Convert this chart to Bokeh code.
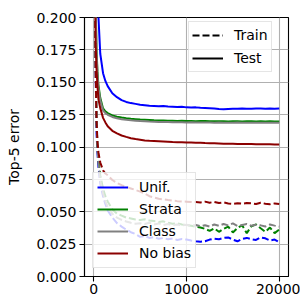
from bokeh.plotting import figure
from bokeh.models import Legend, LegendItem, Range1d, FixedTicker, NumeralTickFormatter
from bokeh.embed import file_html
from bokeh.resources import INLINE

steps = [0, 100, 200, 300, 400, 500, 700, 1000, 1250, 1500,
         2000, 2500, 3000, 3500, 4000, 4500, 5000, 5500, 6000, 6500,
         7000, 7500, 8000, 8500, 9000, 9500, 10000, 10500, 11000, 11500,
         12000, 12500, 13000, 13500, 14000, 14500, 15000, 15500, 16000, 16500,
         17000, 17500, 18000, 18500, 19000, 19500, 20000]

test_unif = [0.95, 0.55, 0.36, 0.27, 0.225, 0.201, 0.172, 0.157, 0.151, 0.147,
             0.1415, 0.1385, 0.1362, 0.1348, 0.1339, 0.1333, 0.1327, 0.1323, 0.1319, 0.1317,
             0.1315, 0.1316, 0.1312, 0.1311, 0.1309, 0.1310, 0.1306, 0.1305, 0.1306, 0.1303,
             0.1302, 0.1300, 0.1297, 0.1293, 0.1291, 0.1294, 0.1296, 0.1295, 0.1297, 0.1296,
             0.1295, 0.1297, 0.1298, 0.1296, 0.1297, 0.1296, 0.1298]
test_strata = [0.9, 0.3, 0.21, 0.175, 0.158, 0.148, 0.138, 0.1298, 0.1275, 0.1262,
               0.1244, 0.1234, 0.1227, 0.1222, 0.1218, 0.1215, 0.1212, 0.1210, 0.1208, 0.1206,
               0.1205, 0.1204, 0.1203, 0.1203, 0.1201, 0.1202, 0.1200, 0.1201, 0.1199, 0.1200,
               0.1201, 0.1199, 0.1198, 0.1199, 0.1198, 0.1197, 0.1198, 0.1199, 0.1197, 0.1198,
               0.1199, 0.1197, 0.1198, 0.1197, 0.1198, 0.1197, 0.1197]
test_class = [0.9, 0.3, 0.208, 0.173, 0.156, 0.146, 0.136, 0.1282, 0.1262, 0.1249,
              0.1232, 0.1222, 0.1215, 0.1210, 0.1206, 0.1203, 0.1200, 0.1198, 0.1196, 0.1195,
              0.1194, 0.1193, 0.1193, 0.1192, 0.1191, 0.1192, 0.1190, 0.1191, 0.1190, 0.1189,
              0.1190, 0.1189, 0.1188, 0.1189, 0.1188, 0.1187, 0.1188, 0.1189, 0.1187, 0.1188,
              0.1187, 0.1188, 0.1187, 0.1188, 0.1187, 0.1188, 0.1187]
test_nobias = [0.85, 0.26, 0.18, 0.16, 0.147, 0.137, 0.130, 0.1225, 0.119, 0.116,
               0.1125, 0.1105, 0.1089, 0.1078, 0.1068, 0.1061, 0.1056, 0.1051, 0.1048, 0.1046,
               0.1044, 0.1042, 0.1040, 0.1038, 0.1037, 0.1036, 0.1035, 0.1034, 0.1033, 0.1032,
               0.1030, 0.1029, 0.1028, 0.1027, 0.1026, 0.1025, 0.1025, 0.1024, 0.1024, 0.1023,
               0.1023, 0.1022, 0.1022, 0.1021, 0.1021, 0.1020, 0.1020]

train_unif = [0.9, 0.4, 0.16, 0.11, 0.095, 0.085, 0.072, 0.062, 0.056, 0.051,
              0.0455, 0.0412, 0.0385, 0.0362, 0.0342, 0.0328, 0.0306, 0.0312, 0.0298, 0.0305,
              0.0291, 0.0297, 0.0288, 0.0294, 0.0282, 0.0289, 0.0285, 0.0278, 0.0272, 0.0268,
              0.0272, 0.0285, 0.0292, 0.0288, 0.0298, 0.0302, 0.0285, 0.0272, 0.0290, 0.0298,
              0.0288, 0.0282, 0.0302, 0.0295, 0.0278, 0.0285, 0.0265]
train_strata = [0.9, 0.4, 0.17, 0.12, 0.1, 0.09, 0.078, 0.068, 0.062, 0.058,
                0.052, 0.0485, 0.047, 0.0455, 0.0448, 0.0440, 0.0436, 0.0442, 0.0432, 0.0428,
                0.0420, 0.0426, 0.0415, 0.0408, 0.0412, 0.0402, 0.0398, 0.0392, 0.0385, 0.0378,
                0.0368, 0.0352, 0.0372, 0.0345, 0.0368, 0.0385, 0.0340, 0.0375, 0.0395, 0.0335,
                0.0388, 0.0402, 0.0372, 0.0345, 0.0378, 0.0335, 0.0362]
train_class = [0.9, 0.4, 0.17, 0.12, 0.098, 0.088, 0.074, 0.064, 0.058, 0.054,
               0.0485, 0.0455, 0.0438, 0.0425, 0.0415, 0.0408, 0.0412, 0.0405, 0.0415, 0.0402,
               0.0410, 0.0398, 0.0405, 0.0396, 0.0402, 0.0394, 0.0400, 0.0392, 0.0398, 0.0388,
               0.0396, 0.0385, 0.0402, 0.0392, 0.0405, 0.0395, 0.0410, 0.0390, 0.0398, 0.0405,
               0.0392, 0.0400, 0.0395, 0.0386, 0.0402, 0.0393, 0.0385]
train_nobias = [0.9, 0.35, 0.16, 0.12, 0.104, 0.096, 0.088, 0.082, 0.0795, 0.0782,
                0.0745, 0.0722, 0.0705, 0.0692, 0.0680, 0.0668, 0.0655, 0.0640, 0.0620, 0.0610,
                0.0600, 0.0596, 0.0590, 0.0586, 0.0582, 0.0579, 0.0578, 0.0576, 0.0575, 0.0572,
                0.0578, 0.0570, 0.0576, 0.0568, 0.0572, 0.0564, 0.0560, 0.0566, 0.0562, 0.0568,
                0.0565, 0.0560, 0.0570, 0.0562, 0.0558, 0.0564, 0.0560]

methods = ["Unif.", "Strata", "Class", "No bias"]
colors = ["#0000ff", "#008000", "#808080", "#8b0000"]
train_series = [train_unif, train_strata, train_class, train_nobias]
test_series = [test_unif, test_strata, test_class, test_nobias]
y_ticks = [0.0, 0.025, 0.05, 0.075, 0.1, 0.125, 0.15, 0.175, 0.2]
x_ticks = [0, 10000, 20000]

FONT = "DejaVu Sans"

p = figure(width=300, height=300, output_backend="svg", toolbar_location=None,
           x_range=Range1d(-1000, 21000), y_range=Range1d(0, 0.2),
           min_border_left=84, min_border_top=17, min_border_right=12, min_border_bottom=24)
p.background_fill_color = "white"
p.border_fill_color = "white"
p.outline_line_color = "black"
p.outline_line_width = 1.1

for ax in (p.xaxis[0], p.yaxis[0]):
    ax.axis_line_color = "black"
    ax.axis_line_width = 1.1
    ax.major_tick_line_color = "black"
    ax.major_tick_line_width = 1.1
    ax.major_tick_out = 5
    ax.major_tick_in = 0
    ax.minor_tick_line_color = None
    ax.major_label_text_font = FONT
    ax.major_label_text_font_size = "14px"
    ax.major_label_text_color = "black"
    ax.major_label_standoff = 3

p.xaxis[0].major_label_standoff = 2
p.xaxis[0].ticker = FixedTicker(ticks=x_ticks)
p.yaxis[0].ticker = FixedTicker(ticks=y_ticks)
p.yaxis[0].formatter = NumeralTickFormatter(format="0.000")
p.yaxis[0].axis_label = "Top-5 error"
p.yaxis[0].axis_label_text_font = FONT
p.yaxis[0].axis_label_text_font_size = "14px"
p.yaxis[0].axis_label_text_font_style = "normal"
p.yaxis[0].axis_label_text_color = "black"
p.yaxis[0].axis_label_standoff = 11

p.xgrid[0].ticker = FixedTicker(ticks=x_ticks)
p.ygrid[0].ticker = FixedTicker(ticks=y_ticks)
for g in (p.xgrid[0], p.ygrid[0]):
    g.grid_line_color = "#b0b0b0"
    g.grid_line_width = 1.1

for col, ys in zip(colors, train_series):
    p.line(steps, ys, line_color=col, line_width=2, line_dash="7 3")

method_renderers = []
for col, ys in zip(colors, test_series):
    r = p.line(steps, ys, line_color=col, line_width=2)
    method_renderers.append(r)

# legend-only renderers, placed outside the visible ranges
r_train = p.line(x=[-9000, -8000], y=[-1, -1], line_color="black", line_width=2, line_dash="7 3")
r_test = p.line(x=[-9000, -8000], y=[-1, -1], line_color="black", line_width=2)

def style_legend(leg):
    leg.border_line_color = "#cccccc"
    leg.border_line_width = 1
    leg.background_fill_color = "white"
    leg.background_fill_alpha = 0.8
    leg.label_text_font = FONT
    leg.label_text_font_size = "14px"
    leg.label_text_color = "black"
    leg.glyph_width = 31
    leg.glyph_height = 20
    leg.label_height = 20
    leg.label_standoff = 11
    leg.margin = 0

leg_top = Legend(items=[LegendItem(label="Train", renderers=[r_train]),
                        LegendItem(label="Test", renderers=[r_test])],
                 location=(104, 204))
style_legend(leg_top)
leg_top.padding = 3
leg_top.spacing = 3
p.add_layout(leg_top, "center")

leg_bot = Legend(items=[LegendItem(label=m, renderers=[r]) for m, r in zip(methods, method_renderers)],
                 location=(8, 8))
style_legend(leg_bot)
leg_bot.padding = 4
leg_bot.spacing = 2
p.add_layout(leg_bot, "center")

open("out.html", "w").write(file_html(p, INLINE))
